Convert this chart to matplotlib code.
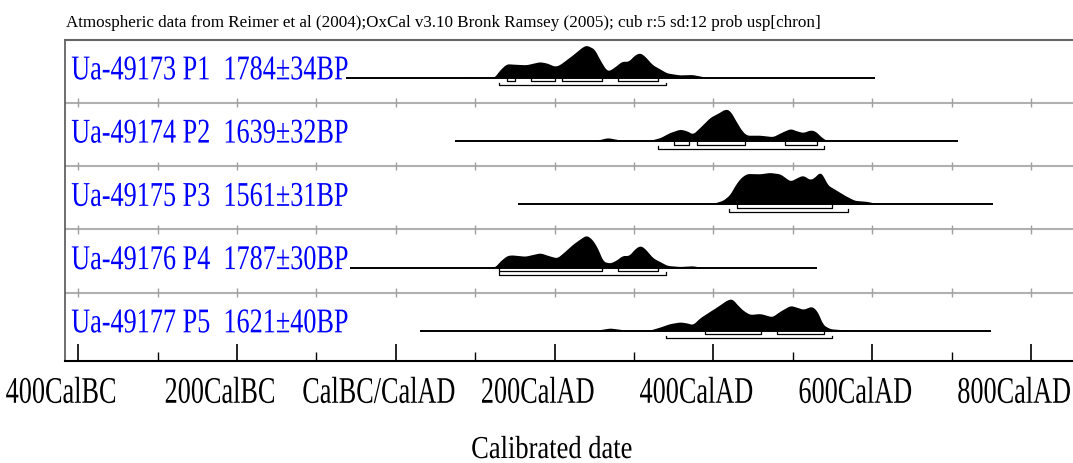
import numpy as np
import matplotlib
matplotlib.use('Agg')
import matplotlib.pyplot as plt
from matplotlib.patheffects import AbstractPathEffect
from matplotlib.transforms import Affine2D

title = ("Atmospheric data from Reimer et al (2004);OxCal v3.10 Bronk Ramsey (2005); "
         "cub r:5 sd:12 prob usp[chron]")
labels = ["Ua-49173 P1  1784\u00b134BP", "Ua-49174 P2  1639\u00b132BP", "Ua-49175 P3  1561\u00b131BP",
          "Ua-49176 P4  1787\u00b130BP", "Ua-49177 P5  1621\u00b140BP"]

# probability curves (calendar year AD, relative probability)
p1_years = [80, 94, 108, 125, 131, 140, 153, 165, 182, 191, 201, 207, 223, 236, 241, 251, 257, 266, 270,
            279, 285, 294, 301, 308, 314, 324, 342, 358, 374, 392]
p1_prob = [0, 0.7, 0, 0, 6.7, 13.3, 12.7, 12.3, 15.3, 14, 10.7, 12.3, 21.7, 30, 31.7, 27.7, 18.3, 6.7, 6.7,
           11.7, 15.7, 15.7, 21.7, 24.3, 21, 12.3, 4.3, 2.3, 2.7, 0]
p2_years = [230, 250, 267, 285, 320, 333, 345, 358, 367, 374, 383, 396, 408, 415, 421, 427, 436, 442, 459,
            475, 487, 497, 505, 513, 522, 528, 537, 543, 560]
p2_prob = [0, 0.3, 3.3, 0.7, 0.7, 3.3, 8.3, 11.7, 10, 6.7, 13.3, 23.3, 28.3, 31.7, 30, 21.7, 10, 5.7, 5.7,
           4.3, 9, 12.3, 10, 8.3, 11, 10, 3.3, 0.5, 0]
p3_years = [390, 400, 412, 421, 427, 434, 442, 459, 471, 484, 497, 507, 513, 522, 528, 534, 538, 544, 553,
            566, 578, 594, 610]
p3_prob = [0, 1, 3.7, 9.3, 17.7, 25, 29.3, 29, 30.3, 29, 22, 26, 27.7, 23.3, 26, 31, 27.7, 18.3, 14.3,
           8.3, 3.7, 2.7, 0]
p4_years = [115, 125, 131, 140, 146, 163, 182, 192, 203, 211, 223, 232, 240, 248, 255, 261, 270, 279, 285,
            294, 301, 308, 314, 324, 342, 358, 374, 387]
p4_prob = [0, 0.5, 6, 11.7, 12.3, 11, 14.3, 11.7, 9.3, 14.3, 22.7, 27.7, 31.7, 27, 17.7, 6, 4.3, 7.7, 11.7,
           11.7, 18.3, 21.7, 18.3, 9.3, 2, 1, 1.7, 0]
p5_years = [230, 250, 270, 290, 320, 333, 345, 358, 367, 374, 383, 396, 406, 417, 424, 427, 437, 446, 459,
            474, 484, 497, 507, 513, 524, 531, 538, 547, 568, 585]
p5_prob = [0, 0.3, 2.7, 0.7, 0.7, 3.7, 7, 8.7, 7.7, 6, 12.7, 19.3, 24.3, 30.3, 31.7, 28.3, 20.3, 16, 17,
           13.7, 19.3, 25, 22.7, 21, 24.3, 19.3, 6, 2, 0.7, 0]

# extent of the plotted calibration line
spans = [(-62, 604), (75, 708), (154, 752), (-58, 530), (31, 750)]

# highest probability ranges
r68 = [[(140, 150), (170, 200), (210, 260), (280, 330)],
       [(350, 370), (380, 440), (490, 530)],
       [(430, 550)],
       [(130, 260), (280, 330)],
       [(390, 460), (480, 540)]]
r95 = [[(130, 340)], [(330, 540)], [(420, 570)], [(130, 340)], [(340, 550)]]

tick_years = [-400, -200, 0, 200, 400, 600, 800]
tick_labels = ["400CalBC", "200CalBC", "CalBC/CalAD", "200CalAD", "400CalAD", "600CalAD", "800CalAD"]

curves = [(p1_years, p1_prob), (p2_years, p2_prob), (p3_years, p3_prob), (p4_years, p4_prob),
          (p5_years, p5_prob)]


class Squeeze(AbstractPathEffect):
    """narrow the glyphs horizontally, like the condensed OxCal font"""
    def __init__(self, sx, center=False, dx=0):
        super().__init__()
        self.sx, self.center, self.dx = sx, center, dx

    def draw_path(self, renderer, gc, tpath, affine, rgbFace=None):
        ext = tpath.get_extents(affine)
        x0 = (ext.x0 + ext.x1) / 2 if self.center else ext.x0
        sq = Affine2D().translate(-x0, 0).scale(self.sx, 1).translate(x0 + self.dx, 0)
        renderer.draw_path(gc, tpath, affine + sq, rgbFace)


plt.rcParams['font.family'] = ['Liberation Serif', 'DejaVu Serif']

W, H = 1073, 464
fig = plt.figure(figsize=(W / 100, H / 100), dpi=100)
ax = fig.add_axes([65 / W, (H - 362) / H, (W - 65) / W, (362 - 40.5) / H])
ax.set_xlim(-416.5, 853)
ax.set_ylim(5.083, 0)

for i in range(1, 5):
    ax.axhline(i, color='#b0b0b0', lw=1.5, zorder=1)
    ax.vlines(np.arange(-400, 801, 100), i - 0.07, i + 0.07, color='#a0a0a0', lw=1, zorder=1)

grid = np.arange(-100, 900, 1.0)
kernel = np.ones(7) / 7
for i, (yrs, prob) in enumerate(curves):
    base = i + 0.605
    d = np.interp(grid, yrs, prob, left=0, right=0)
    d = np.convolve(d, kernel, mode='same')
    d = d / d.max() * 0.5
    ax.fill_between(grid, base, base - d, where=d > 0.002, color='black', lw=0, zorder=3)
    ax.hlines(base, spans[i][0], spans[i][1], color='black', lw=1.4, zorder=3)
    for rng, off in ((r68[i], 0.058), (r95[i], 0.122)):
        for a, b in rng:
            y = base + off
            ax.plot([a, a, b, b], [y - 0.045, y, y, y - 0.045], color='black', lw=0.9, zorder=3)
    t = ax.text(0.006, i + 0.63, labels[i], transform=ax.get_yaxis_transform(), color='#0000ff',
                fontsize=25, va='baseline', ha='left', zorder=5)
    t.set_path_effects([Squeeze(0.755)])

ax.spines['right'].set_visible(False)
ax.spines['top'].set_color('#666666')
ax.spines['top'].set_linewidth(1.5)
ax.spines['left'].set_color('#555555')
ax.spines['left'].set_linewidth(1.2)
ax.spines['bottom'].set_linewidth(1.5)
ax.set_yticks([])

ax.set_xticks(tick_years)
ax.set_xticks(np.arange(-400, 801, 100), minor=True)
ax.set_xticklabels(tick_labels)
ax.tick_params(axis='x', which='major', direction='in', length=12.2, width=1.2, pad=11, labelsize=27)
ax.tick_params(axis='x', which='minor', direction='in', length=6.5, width=1.0)
for lbl in ax.get_xticklabels():
    lbl.set_path_effects([Squeeze(0.70, center=True, dx=-17)])

xl = fig.text(552 / W, (H - 459) / H, "Calibrated date", fontsize=23, ha='center', va='baseline')
xl.set_path_effects([Squeeze(0.83, center=True)])

fig.text(66 / W, (H - 27) / H, title, fontsize=12.25, ha='left', va='baseline')

fig.savefig('out.png', dpi=100)
